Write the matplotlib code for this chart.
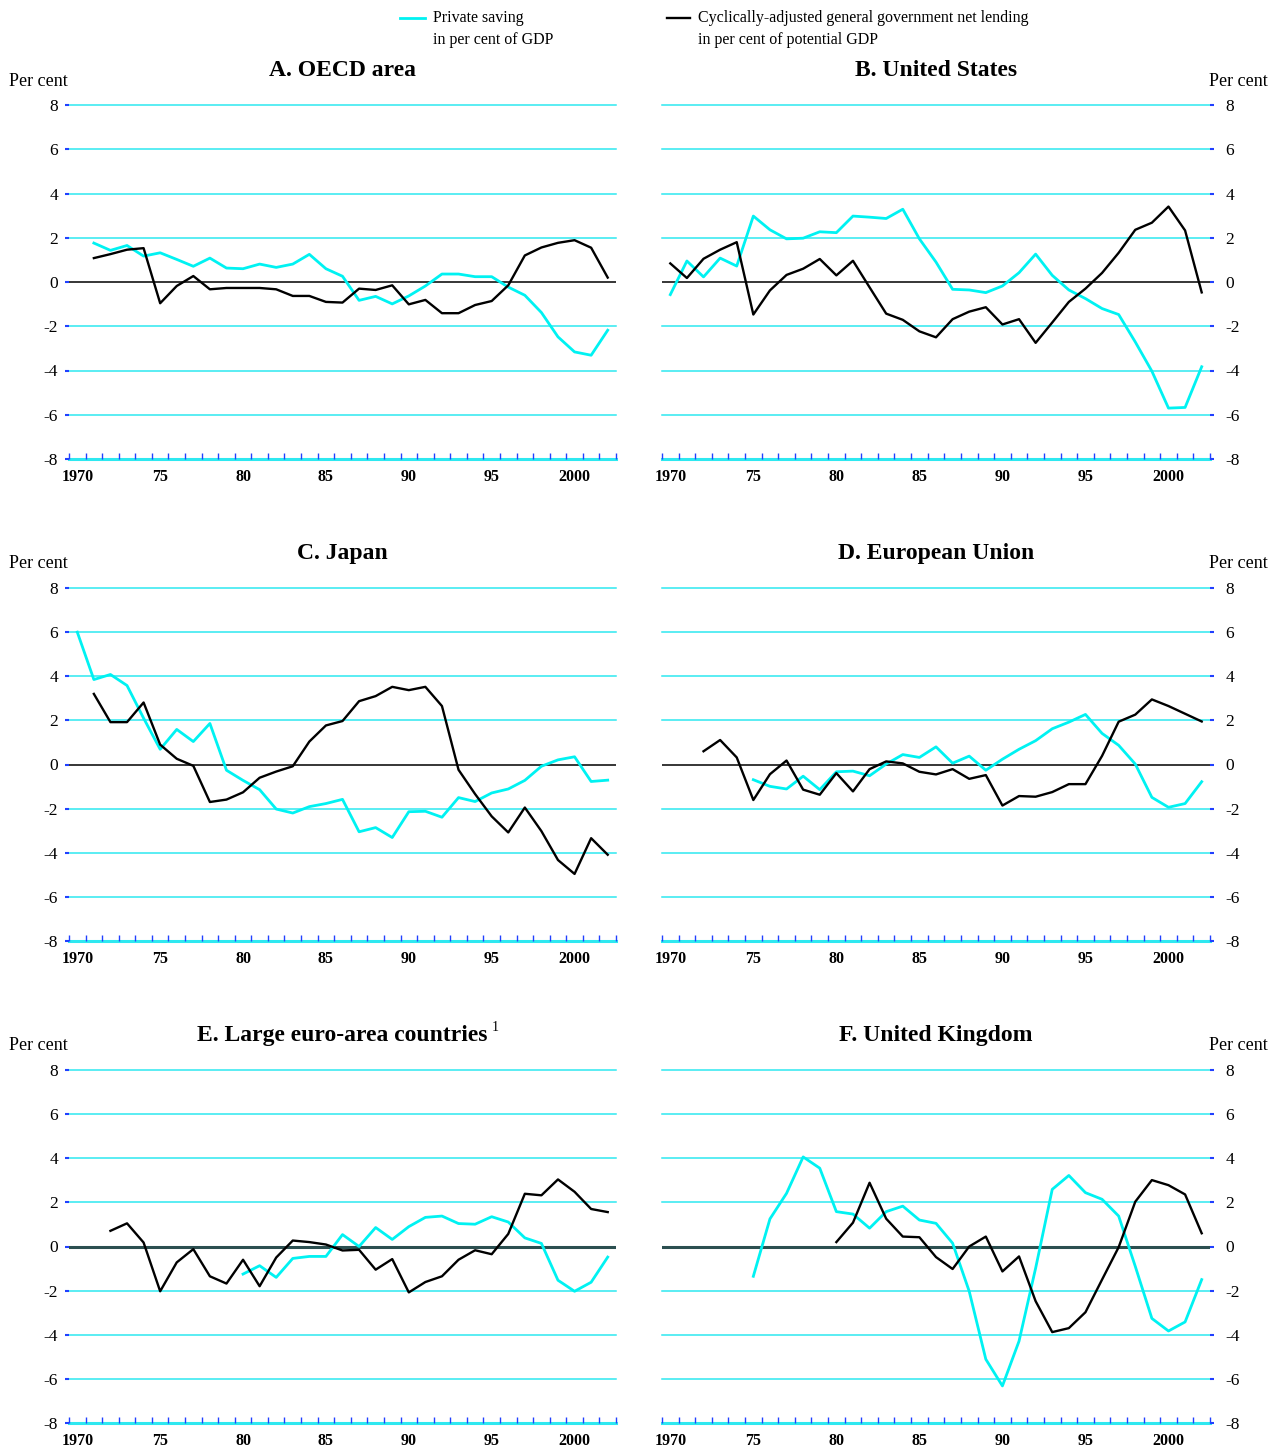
import matplotlib
matplotlib.use("Agg")
import matplotlib.pyplot as plt
from matplotlib.lines import Line2D
import numpy as np

plt.rcParams['font.family'] = ['Liberation Serif', 'DejaVu Serif']

# private saving, per cent of GDP (cyan) and cyclically-adjusted general
# government net lending, per cent of potential GDP (black)
oecd_ps_start = 1971
oecd_ps = [1.76, 1.43, 1.65, 1.17, 1.32, 1.02, 0.71, 1.08, 0.63, 0.60, 0.81, 0.66,
           0.81, 1.25, 0.60, 0.26, -0.83, -0.65, -0.99, -0.63, -0.18, 0.36, 0.36,
           0.24, 0.24, -0.23, -0.60, -1.38, -2.48, -3.16, -3.31, -2.18]
oecd_nl_start = 1971
oecd_nl = [1.08, 1.26, 1.46, 1.53, -0.96, -0.18, 0.27, -0.33, -0.27, -0.27, -0.27,
           -0.33, -0.63, -0.63, -0.90, -0.93, -0.30, -0.36, -0.15, -1.01, -0.81,
           -1.41, -1.41, -1.04, -0.86, -0.15, 1.20, 1.56, 1.77, 1.89, 1.55, 0.20]

us_ps_start = 1970
us_ps = [-0.57, 0.95, 0.23, 1.08, 0.72, 2.98, 2.36, 1.95, 1.98, 2.27, 2.23, 2.98,
         2.93, 2.87, 3.29, 1.95, 0.90, -0.33, -0.36, -0.48, -0.18, 0.42, 1.26,
         0.30, -0.36, -0.75, -1.20, -1.47, -2.71, -4.03, -5.70, -5.67, -3.83]
us_nl_start = 1970
us_nl = [0.84, 0.18, 1.05, 1.46, 1.80, -1.47, -0.38, 0.32, 0.60, 1.04, 0.30, 0.96,
         -0.24, -1.43, -1.71, -2.23, -2.50, -1.68, -1.34, -1.14, -1.92, -1.68,
         -2.75, -1.83, -0.90, -0.30, 0.41, 1.32, 2.36, 2.68, 3.41, 2.33, -0.47]

japan_ps_start = 1970
japan_ps = [6.00, 3.85, 4.08, 3.58, 2.10, 0.69, 1.59, 1.04, 1.86, -0.26, -0.72,
            -1.14, -2.02, -2.20, -1.91, -1.77, -1.58, -3.05, -2.86, -3.31, -2.14,
            -2.12, -2.39, -1.50, -1.68, -1.29, -1.11, -0.72, -0.08, 0.21, 0.35,
            -0.77, -0.71]
japan_nl_start = 1971
japan_nl = [3.20, 1.92, 1.92, 2.81, 0.90, 0.26, -0.06, -1.70, -1.59, -1.26, -0.60,
            -0.32, -0.08, 1.04, 1.77, 1.97, 2.87, 3.10, 3.52, 3.37, 3.52, 2.65,
            -0.24, -1.34, -2.35, -3.08, -1.95, -3.02, -4.33, -4.96, -3.34, -4.09]

eu_ps_start = 1975
eu_ps = [-0.69, -0.99, -1.11, -0.53, -1.14, -0.33, -0.30, -0.51, 0.02, 0.45, 0.32,
         0.80, 0.06, 0.38, -0.26, 0.24, 0.69, 1.08, 1.62, 1.92, 2.27, 1.41, 0.87,
         0.02, -1.49, -1.94, -1.77, -0.78]
eu_nl_start = 1972
eu_nl = [0.60, 1.11, 0.32, -1.61, -0.44, 0.18, -1.14, -1.37, -0.39, -1.22, -0.21,
         0.14, 0.05, -0.33, -0.45, -0.21, -0.65, -0.48, -1.86, -1.43, -1.46, -1.25,
         -0.89, -0.89, 0.39, 1.94, 2.26, 2.95, 2.65, 2.30, 1.95]

euro_ps_start = 1980
euro_ps = [-1.25, -0.87, -1.40, -0.54, -0.45, -0.45, 0.54, 0.00, 0.86, 0.32, 0.90,
           1.32, 1.38, 1.04, 1.01, 1.35, 1.11, 0.39, 0.14, -1.53, -2.03, -1.62, -0.48]
euro_nl_start = 1972
euro_nl = [0.71, 1.05, 0.18, -2.03, -0.72, -0.12, -1.35, -1.68, -0.60, -1.80, -0.50,
           0.27, 0.20, 0.09, -0.18, -0.15, -1.05, -0.57, -2.08, -1.61, -1.35, -0.60,
           -0.17, -0.35, 0.57, 2.39, 2.32, 3.04, 2.48, 1.70, 1.56]

uk_ps_start = 1975
uk_ps = [-1.35, 1.25, 2.41, 4.06, 3.55, 1.58, 1.47, 0.83, 1.58, 1.83, 1.20, 1.05,
         0.15, -2.03, -5.11, -6.32, -4.29, -0.98, 2.59, 3.22, 2.44, 2.14, 1.38,
         -0.90, -3.26, -3.83, -3.42, -1.50]
uk_nl_start = 1980
uk_nl = [0.20, 1.08, 2.89, 1.26, 0.45, 0.42, -0.48, -1.02, 0.00, 0.45, -1.13, -0.45,
         -2.48, -3.88, -3.70, -2.98, -1.50, -0.03, 2.03, 3.01, 2.78, 2.36, 0.60]

titles = ['A. OECD area', 'B. United States', 'C. Japan', 'D. European Union',
          'E. Large euro-area countries', 'F. United Kingdom']
ps_series = [(oecd_ps_start, oecd_ps), (us_ps_start, us_ps), (japan_ps_start, japan_ps),
             (eu_ps_start, eu_ps), (euro_ps_start, euro_ps), (uk_ps_start, uk_ps)]
nl_series = [(oecd_nl_start, oecd_nl), (us_nl_start, us_nl), (japan_nl_start, japan_nl),
             (eu_nl_start, eu_nl), (euro_nl_start, euro_nl), (uk_nl_start, uk_nl)]

year_ticks = [1970, 1975, 1980, 1985, 1990, 1995, 2000]
year_labels = ['1970', '75', '80', '85', '90', '95', '2000']
y_ticks = [-8, -6, -4, -2, 0, 2, 4, 6, 8]

W, H = 1283, 1450
fig = plt.figure(figsize=(W / 100., H / 100.), dpi=100)

cyan = '#00f2f2'
grid_cyan = '#2ee8f0'
tick_blue = '#2040ff'

col_x = [(69, 547), (662, 548)]
row_y = [(105, 459), (588, 941), (1070, 1423)]

for i in range(6):
    r, c = i // 2, i % 2
    x0, w = col_x[c]
    top, bot = row_y[r]
    ax = fig.add_axes([x0 / W, 1 - bot / H, w / W, (bot - top) / H])
    for s in ax.spines.values():
        s.set_visible(False)
    ax.set_xlim(1969.5, 2002.5)
    ax.set_ylim(-8, 8)

    for yv in y_ticks:
        if yv == 0:
            continue
        ax.axhline(yv, color=grid_cyan, lw=2.2 if yv == -8 else 1.1, clip_on=False, zorder=1)
    if r == 2:
        ax.axhline(0, color='#2b4f50', lw=2.2, zorder=2)
    else:
        ax.axhline(0, color='black', lw=1.1, zorder=2)

    start, vals = ps_series[i]
    ax.plot(np.arange(start, start + len(vals)), vals, color=cyan, lw=2.0, zorder=3)
    start, vals = nl_series[i]
    ax.plot(np.arange(start, start + len(vals)), vals, color='black', lw=1.7, zorder=4)

    ax.set_xticks(year_ticks)
    ax.set_xticklabels(year_labels, fontweight='bold', fontsize=11.5)
    ax.set_xticks(np.arange(1969.5, 2003, 1.0), minor=True)
    ax.tick_params(axis='x', which='major', length=0, pad=7)
    ax.tick_params(axis='x', which='minor', direction='in', length=4, width=1,
                   color=tick_blue, bottom=True)

    ax.set_yticks(y_ticks)
    ax.set_yticklabels([str(v) for v in y_ticks], fontsize=12.5)
    ax.tick_params(axis='y', length=3, width=1.5, color=tick_blue, pad=5)
    if c == 1:
        ax.yaxis.tick_right()
        ax.tick_params(axis='y', length=3, width=1.5, color=tick_blue, pad=8)

    t = ax.set_title(titles[i], fontsize=17, fontweight='bold', pad=21)
    if i == 4:
        ax.annotate('1', xy=(1, 0.55), xycoords=t, xytext=(3, 0),
                    textcoords='offset points', fontsize=10, va='bottom', ha='left')

    ty = row_y[r][0] - 24
    if c == 0:
        fig.text(9 / W, 1 - ty / H, 'Per cent', fontsize=13, ha='left', va='center')
    else:
        fig.text(1268 / W, 1 - ty / H, 'Per cent', fontsize=13, ha='right', va='center')

# legend across the top
fig.add_artist(Line2D([400 / W, 425 / W], [1 - 18 / H, 1 - 18 / H], color=cyan, lw=2.0,
                      transform=fig.transFigure))
fig.text(433 / W, 1 - 18 / H, 'Private saving', fontsize=11.5, va='center')
fig.text(433 / W, 1 - 40 / H, 'in per cent of GDP', fontsize=11.5, va='center')
fig.add_artist(Line2D([667 / W, 690 / W], [1 - 18 / H, 1 - 18 / H], color='black', lw=1.7,
                      transform=fig.transFigure))
fig.text(698 / W, 1 - 18 / H, 'Cyclically-adjusted general government net lending',
         fontsize=11.5, va='center')
fig.text(698 / W, 1 - 40 / H, 'in per cent of potential GDP', fontsize=11.5, va='center')

plt.savefig('out.png', dpi=100)
